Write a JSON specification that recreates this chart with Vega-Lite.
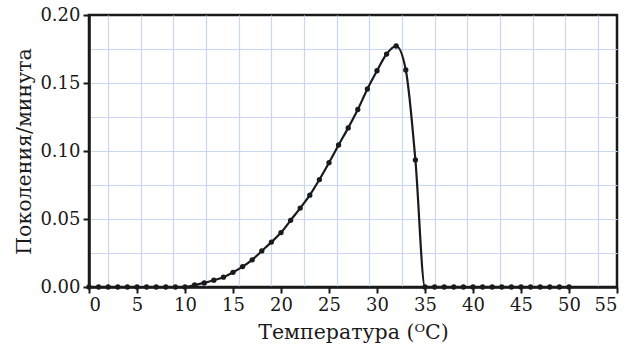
{
  "$schema": "https://vega.github.io/schema/vega-lite/v6.json",
  "autosize": "none",
  "width": 528,
  "height": 272,
  "padding": {"left": 89, "top": 15, "right": 11, "bottom": 64},
  "background": "white",
  "config": {
    "view": {"stroke": "#1a1a1a", "strokeWidth": 2.5},
    "font": "DejaVu Serif"
  },
  "data": {
    "values": [
      {"t": 0, "r": 0}, {"t": 1, "r": 0}, {"t": 2, "r": 0}, {"t": 3, "r": 0}, {"t": 4, "r": 0},
      {"t": 5, "r": 0}, {"t": 6, "r": 0}, {"t": 7, "r": 0}, {"t": 8, "r": 0}, {"t": 9, "r": 0},
      {"t": 10, "r": 0}, {"t": 11, "r": 0.0015}, {"t": 12, "r": 0.003}, {"t": 13, "r": 0.005},
      {"t": 14, "r": 0.0072}, {"t": 15, "r": 0.0108}, {"t": 16, "r": 0.015}, {"t": 17, "r": 0.02},
      {"t": 18, "r": 0.0265}, {"t": 19, "r": 0.033}, {"t": 20, "r": 0.04}, {"t": 21, "r": 0.049},
      {"t": 22, "r": 0.058}, {"t": 23, "r": 0.0675}, {"t": 24, "r": 0.079}, {"t": 25, "r": 0.0914},
      {"t": 26, "r": 0.1044}, {"t": 27, "r": 0.117}, {"t": 28, "r": 0.1305}, {"t": 29, "r": 0.1456},
      {"t": 30, "r": 0.159}, {"t": 31, "r": 0.1713}, {"t": 32, "r": 0.1772}, {"t": 33, "r": 0.1596},
      {"t": 34, "r": 0.0934}, {"t": 35, "r": 0}, {"t": 36, "r": 0}, {"t": 37, "r": 0},
      {"t": 38, "r": 0}, {"t": 39, "r": 0}, {"t": 40, "r": 0}, {"t": 41, "r": 0}, {"t": 42, "r": 0},
      {"t": 43, "r": 0}, {"t": 44, "r": 0}, {"t": 45, "r": 0}, {"t": 46, "r": 0}, {"t": 47, "r": 0},
      {"t": 48, "r": 0}, {"t": 49, "r": 0}, {"t": 50, "r": 0}
    ]
  },
  "layer": [
    {
      "mark": {"type": "line", "color": "#1a1a1a", "strokeWidth": 2.2, "interpolate": "monotone", "clip": false},
      "encoding": {
        "x": {
          "field": "t", "type": "quantitative",
          "scale": {"domain": [0, 55], "nice": false, "zero": false},
          "axis": {
            "orient": "top", "values": [2.0, 5.4, 8.8, 12.2, 15.6, 19.0, 22.4, 25.8, 29.2, 32.6, 36.0, 39.4, 42.8, 46.2, 49.6, 53.0],
            "grid": true, "gridColor": "#c9d6f0", "gridWidth": 1.2, "gridOpacity": 1,
            "labels": false, "ticks": false, "domain": false, "title": null
          }
        },
        "y": {
          "field": "r", "type": "quantitative",
          "scale": {"domain": [0, 0.2], "nice": false},
          "axis": {
            "orient": "right", "values": [0.025, 0.05, 0.075, 0.1, 0.125, 0.15, 0.175],
            "grid": true, "gridColor": "#c9d6f0", "gridWidth": 1.2, "gridOpacity": 1,
            "labels": false, "ticks": false, "domain": false, "title": null
          }
        }
      }
    },
    {
      "mark": {"type": "point", "filled": true, "color": "#1a1a1a", "size": 28, "opacity": 1, "clip": false},
      "encoding": {
        "x": {
          "field": "t", "type": "quantitative",
          "axis": {
            "orient": "bottom", "values": [0, 5, 10, 15, 20, 25, 30, 35, 40, 45, 50, 55],
            "grid": false, "domainColor": "#1a1a1a", "domainWidth": 2.5,
            "tickColor": "#1a1a1a", "tickWidth": 2, "tickSize": 6,
            "labelFont": "DejaVu Serif", "labelFontSize": 18, "labelColor": "#1a1a1a", "labelPadding": 3,
            "title": "Температура (ᴼC)", "titleFont": "DejaVu Serif", "titleFontSize": 20.5,
            "titleFontWeight": "normal", "titleColor": "#1a1a1a", "titlePadding": 8
          }
        },
        "y": {
          "field": "r", "type": "quantitative",
          "axis": {
            "orient": "left", "values": [0, 0.05, 0.1, 0.15, 0.2], "format": ".2f",
            "grid": false, "domainColor": "#1a1a1a", "domainWidth": 2.5,
            "tickColor": "#1a1a1a", "tickWidth": 2, "tickSize": 6,
            "labelFont": "DejaVu Serif", "labelFontSize": 18, "labelColor": "#1a1a1a", "labelPadding": 3,
            "title": "Поколения/минута", "titleFont": "DejaVu Serif", "titleFontSize": 20.5,
            "titleFontWeight": "normal", "titleColor": "#1a1a1a", "titlePadding": 5
          }
        }
      }
    }
  ],
  "resolve": {"axis": {"x": "independent", "y": "independent"}}
}
